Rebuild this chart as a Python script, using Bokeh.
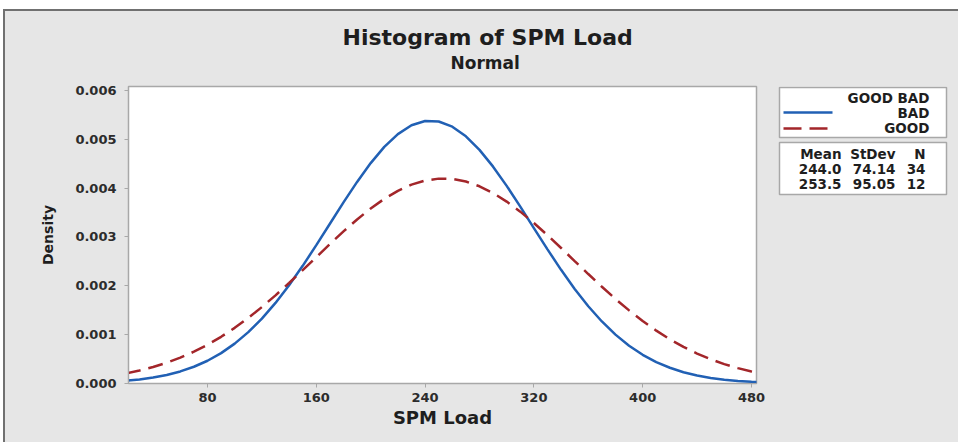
from bokeh.plotting import figure
from bokeh.models import Range1d, FixedTicker, NumeralTickFormatter, Title
from bokeh.layouts import row
from bokeh.core.properties import value
from bokeh.embed import file_html
from bokeh.resources import INLINE

# ---------------- data ----------------
title_text = "Histogram of SPM Load"
subtitle_text = "Normal"
x_label = "SPM Load"
y_label = "Density"
x_ticks = [80, 160, 240, 320, 400, 480]
y_ticks = [0.000, 0.001, 0.002, 0.003, 0.004, 0.005, 0.006]

group_title = "GOOD BAD"
series_names = ["BAD", "GOOD"]
stat_headers = ["Mean", "StDev", "N"]
means = ["244.0", "253.5"]
stdevs = ["74.14", "95.05"]
counts = ["34", "12"]

spm_load = [20, 30, 40, 50, 60, 70, 80, 90, 100, 110, 120, 130, 140, 150, 160,
            170, 180, 190, 200, 210, 220, 230, 240, 250, 260, 270, 280, 290, 300,
            310, 320, 330, 340, 350, 360, 370, 380, 390, 400, 410, 420, 430, 440,
            450, 460, 470, 480, 490]

density_bad = [0.0000560, 0.0000835, 0.000122, 0.000175, 0.000247, 0.000343,
               0.000466, 0.000622, 0.000816, 0.001051, 0.001329, 0.001650,
               0.002012, 0.002409, 0.002832, 0.003270, 0.003707, 0.004127,
               0.004512, 0.004844, 0.005106, 0.005286, 0.005373, 0.005363,
               0.005257, 0.005060, 0.004782, 0.004439, 0.004046, 0.003621,
               0.003182, 0.002746, 0.002327, 0.001936, 0.001582, 0.001270,
               0.001000, 0.000774, 0.000588, 0.000439, 0.000322, 0.000231,
               0.000163, 0.000113, 0.0000773, 0.0000517, 0.0000340, 0.0000219]

density_good = [0.000205, 0.000265, 0.000337, 0.000424, 0.000529, 0.000651,
                0.000793, 0.000956, 0.001139, 0.001343, 0.001565, 0.001805,
                0.002058, 0.002320, 0.002587, 0.002854, 0.003113, 0.003358,
                0.003582, 0.003780, 0.003944, 0.004071, 0.004155, 0.004194,
                0.004187, 0.004135, 0.004037, 0.003899, 0.003724, 0.003518,
                0.003286, 0.003036, 0.002774, 0.002507, 0.002241, 0.001980,
                0.001731, 0.001497, 0.001280, 0.001082, 0.000905, 0.000749,
                0.000612, 0.000495, 0.000396, 0.000314, 0.000245, 0.000190]

# ---------------- style ----------------
BG = "#e6e6e6"
FRAME = "#a8a8a8"
BLUE = "#2160b4"
RED = "#a3262a"
TXT = "#1e1e1e"
FONT = "DejaVu Sans"

X0, X1 = 21.9, 483.7
Y0, Y1 = 0.0, 0.00608

P_W, H = 765, 431
p = figure(width=P_W, height=H, x_range=Range1d(X0, X1), y_range=Range1d(Y0, Y1),
           output_backend="svg", toolbar_location=None,
           min_border_left=123, min_border_right=14,
           min_border_top=75, min_border_bottom=59)
p.background_fill_color = "white"
p.border_fill_color = BG
p.outline_line_color = FRAME
p.outline_line_width = 1.5
p.grid.visible = False

p.line(spm_load, density_bad, color=BLUE, line_width=2.5)
p.line(spm_load, density_good, color=RED, line_width=2.5, line_dash="15 8")

p.xaxis.ticker = FixedTicker(ticks=x_ticks, minor_ticks=[])
p.yaxis.ticker = FixedTicker(ticks=y_ticks, minor_ticks=[])
p.yaxis.formatter = NumeralTickFormatter(format="0.000")
for ax in (p.xaxis, p.yaxis):
    ax.axis_line_color = FRAME
    ax.major_tick_line_color = FRAME
    ax.major_tick_in = 0
    ax.major_tick_out = 4
    ax.minor_tick_out = 0
    ax.major_label_text_font = FONT
    ax.major_label_text_font_size = "13px"
    ax.major_label_text_font_style = "bold"
    ax.major_label_text_color = "#2c2c2c"
    ax.axis_label_text_font = FONT
    ax.axis_label_text_font_style = "bold"
    ax.axis_label_text_color = TXT
p.xaxis.axis_label = x_label
p.xaxis.axis_label_text_font_size = "18px"
p.xaxis.axis_label_standoff = 2
p.xaxis.major_label_standoff = 5
p.yaxis.axis_label = y_label
p.yaxis.axis_label_text_font_size = "14px"
p.yaxis.axis_label_standoff = 16
p.yaxis.major_label_standoff = 8

# titles (subtitle first = closest to the frame)
p.add_layout(Title(text=subtitle_text, align="left", offset=322, standoff=25,
                   vertical_align="middle", text_font=FONT, text_font_style="bold",
                   text_font_size="17px", text_color=TXT), "above")
p.add_layout(Title(text=title_text, align="left", offset=214, standoff=-20,
                   vertical_align="bottom", text_font=FONT, text_font_style="bold",
                   text_font_size="22px", text_color=TXT), "above")

# ---------------- legend panel (page pixel coordinates, frame aligned with p) ----------------
Q_W = 188
q = figure(width=Q_W, height=H, x_range=Range1d(770, 770 + Q_W), y_range=Range1d(383, 86),
           output_backend="svg", toolbar_location=None,
           x_axis_type=None, y_axis_type=None,
           min_border_left=0, min_border_right=0, min_border_top=0, min_border_bottom=0)
q.background_fill_color = BG
q.border_fill_color = BG
q.outline_line_color = None
q.grid.visible = False

q.quad(left=[779, 779], right=[946, 946], top=[87, 142], bottom=[137, 194],
       fill_color="white", line_color=FRAME, line_width=1.5)

q.line([783, 832], [112, 112], color=BLUE, line_width=2.5)
q.line([783, 828], [128, 128], color=RED, line_width=2.5, line_dash="18 8")

leg_kw = dict(text_font=value(FONT), text_font_style="bold", text_font_size="13.5px",
              text_color=TXT, text_align="right", text_baseline="middle")
q.text(x=[929, 929, 929], y=[97, 112, 127],
       text=[group_title] + series_names, **leg_kw)

col_x = [841, 895, 925]
for cx, head, vals in zip(col_x, stat_headers, [means, stdevs, counts]):
    q.text(x=[cx] * 3, y=[153, 168, 183], text=[head] + vals, **leg_kw)

layout = row(p, q, styles={"margin-top": "9px", "margin-left": "3px",
                           "background-color": BG,
                           "border-top": "2px solid #707070",
                           "border-left": "2px solid #707070"})

open("out.html", "w").write(file_html(layout, INLINE))
